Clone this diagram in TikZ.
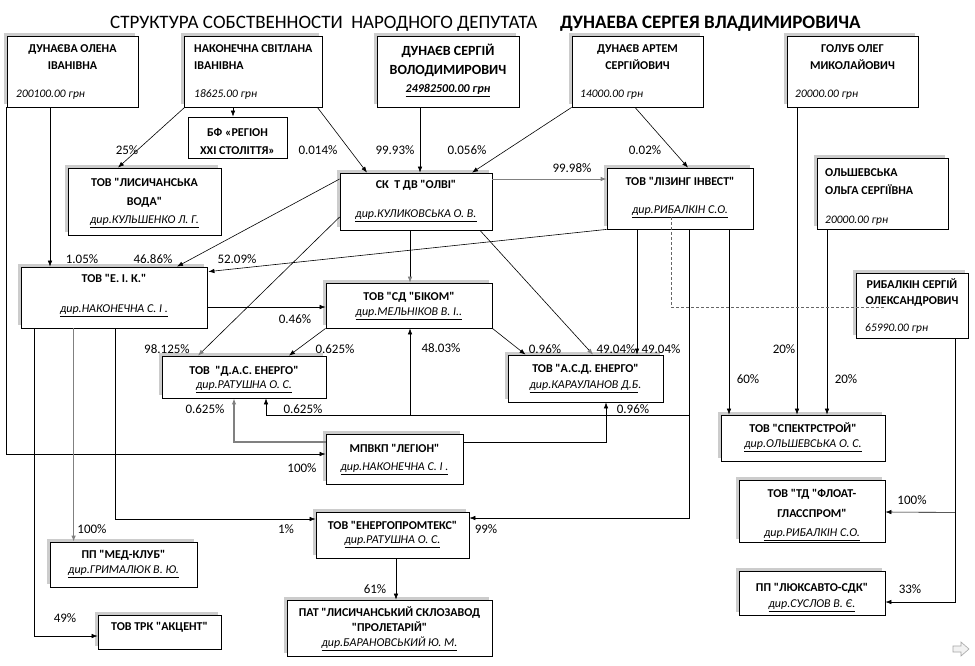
\documentclass[tikz,border=0pt]{standalone}
\usepackage{fontspec}
\setmainfont{Carlito}[Ligatures=TeXOff]
\usetikzlibrary{arrows.meta,calc,shadows}
\begin{document}
\begin{tikzpicture}[x=1pt,y=-1pt,
  box/.style={draw=black, line width=0.8pt, fill=white, inner sep=0pt, general shadow={fill=black!20, shadow xshift=-3.5pt, shadow yshift=3.5pt}},
  plainbox/.style={draw=black, line width=0.8pt, fill=white, inner sep=0pt},
  ttl/.style={inner sep=0pt, font=\bfseries\fontsize{12}{14}\selectfont, text height=7.7pt, text depth=0pt},
  bigttl/.style={inner sep=0pt, font=\bfseries\fontsize{14}{16}\selectfont, text height=9pt, text depth=0pt},
  dr/.style={inner sep=0pt, font=\itshape\fontsize{12}{14}\selectfont, text height=7.7pt, text depth=0pt},
  am/.style={inner sep=0pt, font=\itshape\fontsize{11.5}{14}\selectfont, text height=7.4pt, text depth=0pt},
  pc/.style={inner sep=0pt, font=\fontsize{13}{15}\selectfont, text height=8.3pt, text depth=0pt},
  arr/.style={line width=0.6pt, -{Latex[length=6pt,width=4.5pt]}},
  gtip/.style={line width=0.6pt, -{Latex[length=6pt,width=4.5pt,color=black!50]}},
  garr/.style={draw=black!50, line width=0.9pt, -{Latex[length=6pt,width=4.5pt]}},
  dsh/.style={draw=black!60, line width=0.6pt, dash pattern=on 3pt off 2pt}
]
\fill[white] (0,0) rectangle (975,665);
\useasboundingbox (0,0) rectangle (975,665);

% title
\node[anchor=base west, inner sep=0pt, font=\fontsize{19}{22}\selectfont] (title1) at (110,28) {СТРУКТУРА СОБСТВЕННОСТИ\ \ НАРОДНОГО ДЕПУТАТА};
\node[anchor=base west, inner sep=0pt, font=\bfseries\fontsize{19}{22}\selectfont] (title2) at (560,28) {ДУНАЕВА СЕРГЕЯ ВЛАДИМИРОВИЧА};

% boxes
\node[box, minimum width=131pt, minimum height=71pt] (olena) at (72.5,71.5) {};
\node[box, minimum width=138pt, minimum height=71pt] (nak) at (253,71.5) {};
\node[box, minimum width=142pt, minimum height=71pt] (serg) at (448,71.5) {};
\node[box, minimum width=131pt, minimum height=71pt] (artem) at (637.5,71.5) {};
\node[box, minimum width=131pt, minimum height=71pt] (golub) at (852.5,71.5) {};
\node[plainbox, minimum width=99pt, minimum height=41pt] (bf) at (237.5,137.5) {};
\node[box, minimum width=153pt, minimum height=67pt] (voda) at (144.5,201.5) {};
\node[box, minimum width=152pt, minimum height=57pt] (olvi) at (416,201.5) {};
\node[box, minimum width=146pt, minimum height=61pt] (lizing) at (680,198.5) {};
\node[box, minimum width=131pt, minimum height=71pt] (olsh) at (882.5,193.5) {};
\node[box, minimum width=112pt, minimum height=65pt] (rybalkin) at (912,305.5) {};
\node[box, minimum width=186pt, minimum height=61pt] (eik) at (114,297.5) {};
\node[box, minimum width=166pt, minimum height=45pt] (bikom) at (409,305.5) {};
\node[box, minimum width=164pt, minimum height=42pt] (das) at (244,377) {};
\node[box, minimum width=155pt, minimum height=47pt] (asd) at (585.5,378.5) {};
\node[box, minimum width=137pt, minimum height=50pt] (legion) at (394.5,459) {};
\node[box, minimum width=164pt, minimum height=46pt] (spektr) at (803,438) {};
\node[box, minimum width=146pt, minimum height=62pt] (float) at (812,511) {};
\node[box, minimum width=146pt, minimum height=44pt] (lux) at (812,593) {};
\node[box, minimum width=147pt, minimum height=45pt] (med) at (123.5,564.5) {};
\node[box, minimum width=123pt, minimum height=34pt] (akcent) at (159.5,632) {};
\node[box, minimum width=153pt, minimum height=46pt] (enpt) at (392.5,535) {};
\node[box, minimum width=205pt, minimum height=56pt] (pat) at (389.5,628) {};

% box texts
\node[ttl] (olenaA) at (72.5,49) {ДУНАЄВА ОЛЕНА};
\node[ttl] (olenaB) at (72.5,66) {ІВАНІВНА};
\node[am, anchor=west] (olenaC) at (16,94) {200100.00 грн};

\node[ttl, anchor=west] (nakA) at (194,49) {НАКОНЕЧНА СВІТЛАНА};
\node[ttl, anchor=west] (nakB) at (194,66) {ІВАНІВНА};
\node[am, anchor=west] (nakC) at (194,94) {18625.00 грн};

\node[bigttl] (sergA) at (448,51) {ДУНАЄВ СЕРГІЙ};
\node[bigttl] (sergB) at (448,70) {ВОЛОДИМИРОВИЧ};
\node[am, font=\bfseries\itshape\fontsize{12}{14}\selectfont] (sergC) at (448,89) {\underline{24982500.00 грн}};

\node[ttl] (artemA) at (637.5,49) {ДУНАЄВ АРТЕМ};
\node[ttl] (artemB) at (637.5,66) {СЕРГІЙОВИЧ};
\node[am, anchor=west] (artemC) at (580,94) {14000.00 грн};

\node[ttl] (golubA) at (852.5,49) {ГОЛУБ ОЛЕГ};
\node[ttl] (golubB) at (852.5,66) {МИКОЛАЙОВИЧ};
\node[am, anchor=west] (golubC) at (795,94) {20000.00 грн};

\node[ttl] (bfA) at (237.5,133) {БФ «РЕГІОН};
\node[ttl] (bfB) at (237.5,151) {XXI СТОЛІТТЯ»};

\node[ttl] (vodaA) at (144.5,183) {ТОВ "ЛИСИЧАНСЬКА};
\node[ttl] (vodaB) at (144.5,202) {ВОДА"};
\node[dr] (vodaC) at (144.5,220) {\underline{дир.КУЛЬШЕНКО Л. Г.}};

\node[ttl] (olviA) at (416,185) {СК\ \ Т ДВ "ОЛВІ"};
\node[dr] (olviB) at (416,214) {\underline{дир.КУЛИКОВСЬКА О. В.}};

\node[ttl] (lizingA) at (680,182) {ТОВ "ЛІЗИНГ ІНВЕСТ"};
\node[dr] (lizingB) at (680,210) {\underline{дир.РИБАЛКІН С.О.}};

\node[ttl, anchor=west] (olshA) at (825,173) {ОЛЬШЕВСЬКА};
\node[ttl, anchor=west] (olshB) at (825,191) {ОЛЬГА СЕРГІЇВНА};
\node[am, anchor=west] (olshC) at (825,220) {20000.00 грн};

\node[ttl] (rybA) at (912,285) {РИБАЛКІН СЕРГІЙ};
\node[ttl] (rybB) at (912,301) {ОЛЕКСАНДРОВИЧ};
\node[am, anchor=west] (rybC) at (865,328) {65990.00 грн};

\node[ttl] (eikA) at (114,279) {ТОВ "Е. І. К."};
\node[dr] (eikB) at (114,309) {\underline{дир.НАКОНЕЧНА С. І .}};

\node[ttl] (bikomA) at (409,297) {ТОВ "СД "БІКОМ"};
\node[dr] (bikomB) at (409,312) {\underline{дир.МЕЛЬНІКОВ В. І..}};

\node[ttl] (dasA) at (244,371) {ТОВ\ \ "Д.А.С. ЕНЕРГО"};
\node[dr] (dasB) at (244,385) {\underline{дир.РАТУШНА О. С.}};

\node[ttl] (asdA) at (585.5,369) {ТОВ "А.С.Д. ЕНЕРГО"};
\node[dr] (asdB) at (585.5,385) {\underline{дир.КАРАУЛАНОВ Д.Б}.};

\node[ttl] (legionA) at (394.5,449) {МПВКП "ЛЕГІОН"};
\node[dr] (legionB) at (394.5,467) {\underline{дир.НАКОНЕЧНА С. І .}};

\node[ttl] (spektrA) at (803,429) {ТОВ "СПЕКТРСТРОЙ"};
\node[dr] (spektrB) at (803,444) {\underline{дир.ОЛЬШЕВСЬКА О. С.}};

\node[ttl] (floatA) at (812,494) {ТОВ "ТД "ФЛОАТ-};
\node[ttl] (floatB) at (812,514) {ГЛАССПРОМ"};
\node[dr] (floatC) at (812,533) {\underline{дир.РИБАЛКІН С.О.}};

\node[ttl] (luxA) at (812,588) {ПП "ЛЮКСАВТО-СДК"};
\node[dr] (luxB) at (812,604) {\underline{дир.СУСЛОВ В. Є.}};

\node[ttl] (medA) at (123.5,555) {ПП "МЕД-КЛУБ"};
\node[dr] (medB) at (123.5,570) {\underline{дир.ГРИМАЛЮК В. Ю.}};

\node[ttl] (akcentA) at (159.5,627) {ТОВ ТРК "АКЦЕНТ"};

\node[ttl] (enptA) at (392.5,526) {ТОВ "ЕНЕРГОПРОМТЕКС"};
\node[dr] (enptB) at (392.5,540) {\underline{дир.РАТУШНА О. С.}};

\node[ttl] (patA) at (389.5,613) {ПАТ "ЛИСИЧАНСЬКИЙ СКЛОЗАВОД};
\node[ttl] (patB) at (389.5,628) {"ПРОЛЕТАРІЙ"};
\node[dr] (patC) at (389.5,643) {\underline{дир.БАРАНОВСЬКИЙ Ю. М.}};

% connectors
\draw[arr] ($(olena.south)+(-22.5,0)$) coordinate (c1) -- (c1 |- eik.north);
\draw[arr] (olena.south west) |- ($(legion.west)+(0,-5)$);
\draw[arr] ($(nak.south)+(-20,0)$) coordinate (c3) -- (c3 |- bf.north);
\draw[arr] ($(nak.south west)+(1,0)$) -- ($(voda.north)+(-26.5,0)$);
\draw[arr] ($(nak.south east)+(-5,0)$) -- ($(olvi.north)+(-49,0)$);
\draw[arr] ($(serg.south)+(-28,0)$) coordinate (c6) -- (c6 |- olvi.north);
\draw[arr] (artem.south west) -- ($(olvi.north)+(56,0)$);
\draw[garr] ($(olvi.east)+(0,-22.5)$) coordinate (c8) -- (c8 -| lizing.west);
\draw[arr] ($(artem.south)+(-2.5,0)$) -- ($(lizing.north)+(8,0)$);
\draw[arr] ($(olvi.west)+(0,-22.5)$) -- ($(eik.north)+(63,0)$);
\draw[arr] (lizing.south west) -- ($(eik.north east)+(1,5)$);
\draw[arr] ($(eik.east)+(0,9.5)$) coordinate (c12) -- (c12 -| bikom.west);
\draw[gtip] ($(olvi.south)+(-6,0)$) coordinate (c13) -- (c13 |- bikom.north);
\draw[gtip] ($(olvi.west)+(0,15.5)$) -- ($(das.north)+(-46,0)$);
\draw[arr] (bikom.south west) -- ($(das.north)+(45,0)$);
\draw[arr] (bikom.south east) -- ($(asd.north)+(-60,0)$);
\draw[gtip] ($(olvi.south)+(64,0)$) -- ($(asd.north)+(7.5,0)$);
\draw[arr] ($(lizing.south)+(-43,0)$) coordinate (c18) -- (c18 |- asd.north);
\draw[arr] ($(lizing.south)+(9,0)$) |- ($(enpt.east)+(0,-17)$);
\draw[arr] ($(lizing.south)+(9,186)$) -| ($(das.south)+(22,0)$);
\draw[arr] ($(bikom.south)+(1,87)$) -- ($(bikom.south)+(1,0)$);
\draw[arr] ($(lizing.south)+(49,0)$) coordinate (c22) -- (c22 |- spektr.north);
\draw[arr] ($(golub.south)+(-55.5,0)$) coordinate (c23) -- (c23 |- spektr.north);
\draw[arr] ($(olsh.south)+(-55.5,0)$) coordinate (c24) -- (c24 |- spektr.north);
\draw[arr] ($(rybalkin.south)+(43,0)$) |- ($(lux.east)+(0,9)$);
\draw[arr] ($(rybalkin.south)+(43,174)$) -- ($(float.east)+(0,1)$);
\draw[garr, line width=1.3pt] ($(legion.west)+(0,-17)$) -| ($(das.south)+(-10,0)$);
\draw[arr] ($(legion.east)+(0,-17)$) -| ($(asd.south)+(20.5,0)$);
\draw[arr] ($(eik.south west)+(14,0)$) |- ($(akcent.west)+(0,4)$);
\draw[garr] ($(eik.south west)+(53,0)$) coordinate (c30) -- (c30 |- med.north);
\draw[arr] ($(eik.south west)+(95,0)$) |- ($(enpt.west)+(0,-16)$);
\draw[arr] ($(enpt.south)+(3.5,0)$) coordinate (c32) -- (c32 |- pat.north);
\draw[dsh] ($(lizing.south)+(-9,-12)$) |- ($(rybalkin.west)+(28,1.5)$);

% percentages
\node[pc] (p1) at (127,150) {25\%};
\node[pc] (p2) at (318,150) {0.014\%};
\node[pc] (p3) at (395,150) {99.93\%};
\node[pc] (p4) at (467,150) {0.056\%};
\node[pc] (p5) at (645,150) {0.02\%};
\node[pc] (p6) at (572,168) {99.98\%};
\node[pc] (p7) at (82,259) {1.05\%};
\node[pc] (p8) at (153,259) {46.86\%};
\node[pc] (p9) at (237,259) {52.09\%};
\node[pc] (p10) at (295,319) {0.46\%};
\node[pc] (p11) at (167,349) {98.125\%};
\node[pc] (p12) at (335,349) {0.625\%};
\node[pc] (p13) at (441,348) {48.03\%};
\node[pc] (p14) at (545,349) {0.96\%};
\node[pc] (p15) at (616,349) {49.04\%};
\node[pc] (p16) at (661,349) {49.04\%};
\node[pc] (p17) at (205,409) {0.625\%};
\node[pc] (p18) at (303,409) {0.625\%};
\node[pc] (p19) at (633,409) {0.96\%};
\node[pc] (p20) at (302,468) {100\%};
\node[pc] (p21) at (784,349) {20\%};
\node[pc] (p22) at (748,379) {60\%};
\node[pc] (p23) at (846,379) {20\%};
\node[pc] (p24) at (92,529) {100\%};
\node[pc] (p25) at (286,529) {1\%};
\node[pc] (p26) at (486,529) {99\%};
\node[pc] (p27) at (375,589) {61\%};
\node[pc] (p28) at (65,618) {49\%};
\node[pc] (p29) at (912,500) {100\%};
\node[pc] (p30) at (910,589) {33\%};

% next-slide icon
\draw[black!35, fill=black!5, line width=0.6pt] (953,646) -- (961,646) -- (961,642) -- (969,649) -- (961,656) -- (961,652) -- (953,652) -- cycle;
\end{tikzpicture}
\end{document}
